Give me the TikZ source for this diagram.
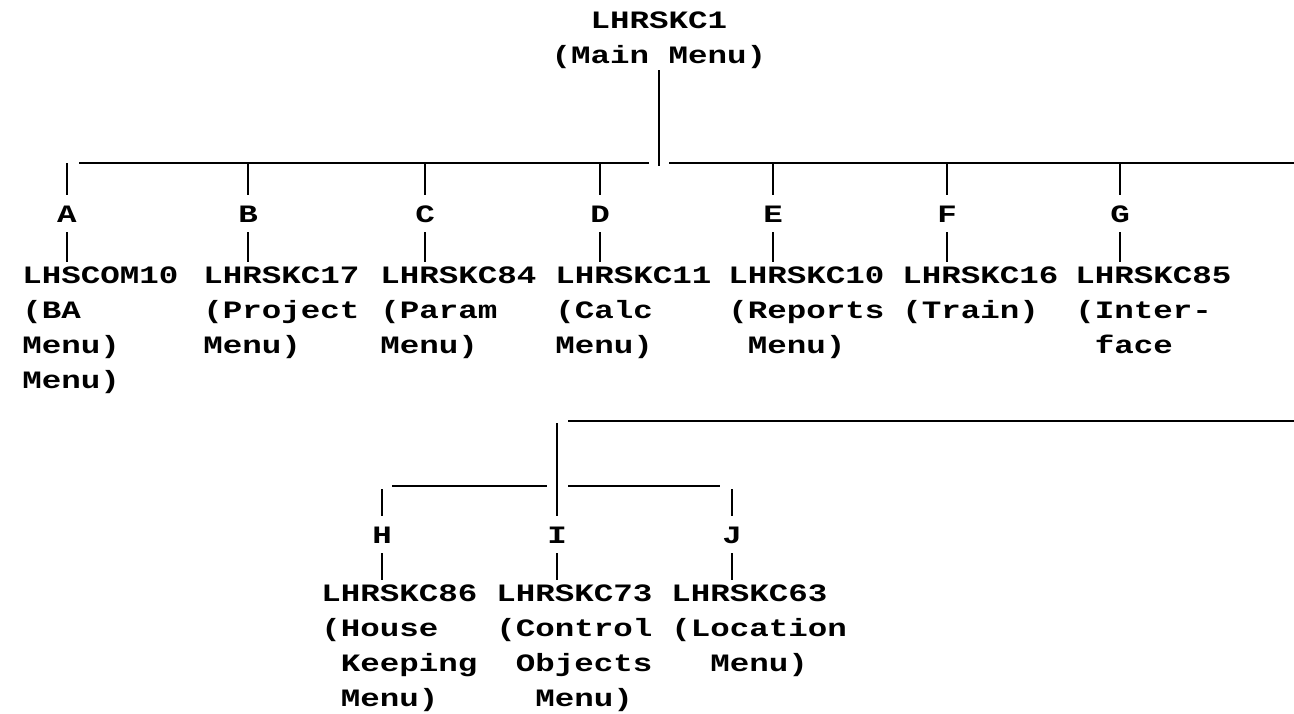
\documentclass[tikz,border=0pt]{standalone}
\usepackage{fontspec}
\setmonofont{Liberation Mono}[FakeStretch=1.3]
\newcommand{\gap}{\hphantom{M}}

\begin{document}
\begin{tikzpicture}[x=1pt, y=-1pt,
    line width=2.6pt,
    txt/.style={font=\ttfamily\bfseries\fontsize{25}{35}\selectfont, inner sep=0pt},
    menu/.style={txt, align=left, anchor=north west, outer ysep=5pt},
    letter/.style={txt, anchor=base, text height=16.5pt, text depth=0pt, inner ysep=9pt},
]
\useasboundingbox (0,0) rectangle (1294,713);

% main menu and first bus
\node[txt, align=center, anchor=north, outer ysep=2pt] (main) at (659,9.5) {LHRSKC1\\(Main Menu)};
\coordinate (drop) at (659,166);
\coordinate (busL) at (79,163);
\coordinate (busgl) at (649,163);
\coordinate (busgr) at (669,163);
\coordinate (busR) at (1294,163);
\draw (main.south) -- (drop);
\draw (busL) -- (busgl);
\draw (busgr) -- (busR);

% first level
\foreach \x/\l/\n in {67/A/{LHSCOM10\\(BA\\Menu)\\Menu)},
                      248/B/{LHRSKC17\\(Project\\Menu)},
                      425/C/{LHRSKC84\\(Param\\Menu)},
                      600/D/{LHRSKC11\\(Calc\\Menu)},
                      773/E/{LHRSKC10\\(Reports\\\gap Menu)},
                      947/F/{LHRSKC16\\(Train)},
                      1120/G/{LHRSKC85\\(Inter-\\\gap face}} {
  \node[letter] (l\l) at (\x,222) {\l};
  \node[menu] (m\l) at ({\x-46},262) {\n};
  \coordinate (t\l) at (\x,163);
  \draw (t\l) -- (l\l.north);
  \draw (l\l.south) -- (m\l.north -| l\l);
}

% second bus
\coordinate (sub) at (557,423);
\coordinate (subL) at (568,421);
\coordinate (subR) at (1294,421);
\draw (subL) -- (subR);
\coordinate (hbL) at (392,486);
\coordinate (hbl) at (547,486);
\coordinate (hbr) at (568,486);
\coordinate (hbR) at (720,486);
\draw (hbL) -- (hbl);
\draw (hbr) -- (hbR);

% second level
\foreach \x/\l/\n in {382/H/{LHRSKC86\\(House\\\gap Keeping\\\gap Menu)},
                      557/I/{LHRSKC73\\(Control\\\gap Objects\\\gap\gap Menu)},
                      732/J/{LHRSKC63\\(Location\\\gap\gap Menu)}} {
  \node[letter] (l\l) at (\x,543) {\l};
  \node[menu] (m\l) at ({\x-62},580) {\n};
  \coordinate (t\l) at (\x,489);
  \draw (t\l) -- (l\l.north);
  \draw (l\l.south) -- (m\l.north -| l\l);
}
\draw (sub) -- (lI.north);
\end{tikzpicture}
\end{document}
